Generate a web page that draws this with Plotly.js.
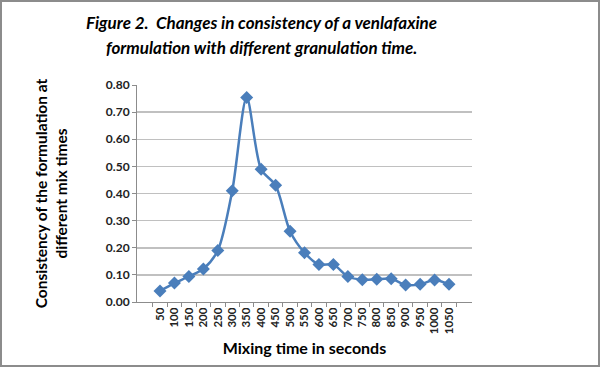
<!DOCTYPE html>
<html><head><meta charset="utf-8">
<script src="https://cdn.plot.ly/plotly-3.0.1.min.js"></script>
<style>
html,body{margin:0;padding:0;background:#fff;}
#wrap{position:relative;width:600px;height:367px;}
#chart{width:600px;height:367px;}
#frame{position:absolute;left:0;top:0;width:600px;height:367px;box-sizing:border-box;border:2px solid #8c8c8c;pointer-events:none;}
</style></head>
<body>
<div id="wrap"><div id="chart"></div><div id="frame"></div></div>
<script>
const mixTimes = ['50','100','150','200','250','300','350','400','450','500','550','600','650','700','750','800','850','900','950','1000','1050'];
const consistency = [0.041,0.070,0.094,0.122,0.19,0.41,0.754,0.489,0.43,0.261,0.182,0.138,0.138,0.094,0.082,0.084,0.086,0.063,0.065,0.081,0.065];
const yTicks = [0,0.1,0.2,0.3,0.4,0.5,0.6,0.7,0.8];
const yTickText = ['0.00','0.10','0.20','0.30','0.40','0.50','0.60','0.70','0.80'];
const titleLines = ['Figure 2.  Changes in consistency of a venlafaxine','formulation with different granulation time.'];

const trace = {
  x: mixTimes, y: consistency, type:'scatter', mode:'lines+markers',
  line:{color:'#4a7ebb', width:2.5, shape:'spline', smoothing:0.8},
  marker:{symbol:'diamond', size:10, color:'#4a7ebb', line:{color:'#4a7ebb', width:0}}
};
const layout = {
  width:600, height:367,
  margin:{l:137, r:128, t:85, b:65},
  paper_bgcolor:'#fff', plot_bgcolor:'#fff',
  showlegend:false,
  font:{family:'Lato, sans-serif', color:'#000'},
  xaxis:{type:'category', tickangle:-90, tickson:'boundaries', ticks:'outside', ticklen:4, tickcolor:'#8c8c8c',
    showline:true, linecolor:'#8c8c8c', linewidth:1, showgrid:false, zeroline:false,
    tickfont:{family:'Lato, sans-serif', size:11.5, color:'#222', weight:'bold'},
    title:{text:'<b>Mixing time in seconds</b>', font:{family:'Lato, sans-serif', size:16, color:'#000'}, standoff:9}},
  yaxis:{range:[0,0.8], tickvals:yTicks, ticktext:yTickText, ticks:'outside', ticklen:4, tickcolor:'#8c8c8c',
    showline:true, linecolor:'#8c8c8c', linewidth:1, gridcolor:'#c0c0c0', gridwidth:1.5, zeroline:false,
    tickfont:{family:'Lato, sans-serif', size:12, color:'#222', weight:'bold'},
    title:{text:'<b>Consistency of the formulation at<br>different mix times</b>', font:{family:'Lato, sans-serif', size:15.5, color:'#000'}, standoff:34}},
  annotations:[
    {text:'<b><i>'+titleLines[0]+'</i></b>', xref:'paper', yref:'paper', x:(261-137)/335, y:1+(85-22)/217, xanchor:'center', yanchor:'middle', showarrow:false, font:{family:'Lato, sans-serif', size:17, color:'#000'}},
    {text:'<b><i>'+titleLines[1]+'</i></b>', xref:'paper', yref:'paper', x:(261-137)/335, y:1+(85-47)/217, xanchor:'center', yanchor:'middle', showarrow:false, font:{family:'Lato, sans-serif', size:17, color:'#000'}}
  ]
};
Plotly.newPlot('chart',[trace],layout,{displayModeBar:false, staticPlot:true});
</script>
</body></html>
